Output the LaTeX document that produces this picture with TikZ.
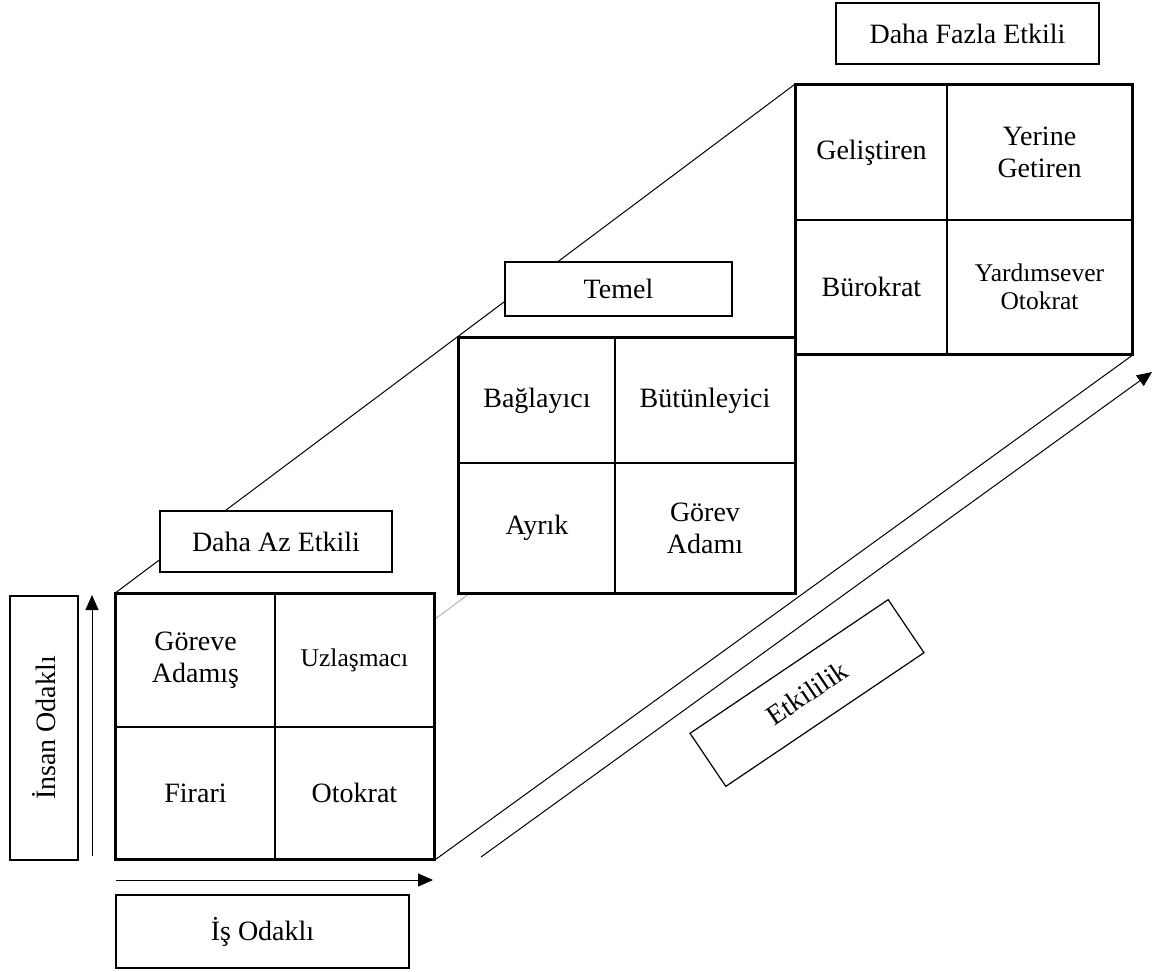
\documentclass[tikz,border=0pt]{standalone}
\usepackage{fontspec}
\setmainfont{Liberation Serif}
\usetikzlibrary{calc,arrows.meta,backgrounds}
\begin{document}
\begin{tikzpicture}[x=1pt,y=-1pt,
  txt/.style={font=\fontsize{28}{32}\selectfont},
  smalltxt/.style={font=\fontsize{25.5}{28}\selectfont},
  cell/.style={draw, line width=1.8pt, fill=white, inner sep=0pt, align=center, txt},
  frame/.style={line width=2.7pt},
  tag/.style={draw, line width=1.8pt, fill=white, inner sep=0pt, align=center, txt},
  link/.style={line width=1pt},
  faint/.style={line width=0.8pt, gray!70},
  axis/.style={line width=1pt, -{Triangle[length=15pt,width=13pt]}},
]
\useasboundingbox (0,0) rectangle (1157,972);

% lower grid: less effective styles
\node[cell, minimum width=159pt, minimum height=133pt] (lowTL) at (195.5,660.5) {Göreve\\Adamış};
\node[cell, minimum width=159pt, minimum height=133pt, smalltxt] (lowTR) at (354.5,660.5) {Uzlaşmacı};
\node[cell, minimum width=159pt, minimum height=132pt] (lowBL) at (195.5,793) {Firari};
\node[cell, minimum width=159pt, minimum height=132pt] (lowBR) at (354.5,793) {Otokrat};
\draw[frame] (lowTL.north west) rectangle (lowBR.south east);

% middle grid: basic styles
\node[cell, minimum width=156pt, minimum height=125pt] (midTL) at (537,400.5) {Bağlayıcı};
\node[cell, minimum width=180pt, minimum height=125pt] (midTR) at (705,400.5) {Bütünleyici};
\node[cell, minimum width=156pt, minimum height=130pt] (midBL) at (537,528) {Ayrık};
\node[cell, minimum width=180pt, minimum height=130pt] (midBR) at (705,528) {Görev\\Adamı};
\draw[frame] (midTL.north west) rectangle (midBR.south east);

% upper grid: more effective styles
\node[cell, minimum width=151pt, minimum height=135pt] (topTL) at (871.5,152.5) {Geliştiren};
\node[cell, minimum width=185pt, minimum height=135pt] (topTR) at (1039.5,152.5) {Yerine\\Getiren};
\node[cell, minimum width=151pt, minimum height=134pt] (topBL) at (871.5,287) {Bürokrat};
\node[cell, minimum width=185pt, minimum height=134pt, smalltxt] (topBR) at (1039.5,287) {Yardımsever\\Otokrat};
\draw[frame] (topTL.north west) rectangle (topBR.south east);

% titles and axis labels
\node[tag, minimum width=232pt, minimum height=61pt] (less) at (276,541.5) {Daha Az Etkili};
\node[tag, minimum width=227pt, minimum height=54pt] (basic) at (618.5,289) {Temel};
\node[tag, minimum width=263pt, minimum height=61pt] (more) at (967.5,33.5) {Daha Fazla Etkili};
\node[tag, minimum width=68pt, minimum height=264pt] (people) at (44,728) {};
\node[txt, rotate=90] at (people.center) {İnsan Odaklı};
\node[tag, minimum width=293pt, minimum height=73pt] (task) at (262.5,931.5) {İş Odaklı};
\node[tag, line width=1.2pt, rotate=34, minimum width=239pt, minimum height=64pt] (eff) at (807,693) {Etkililik};

% axes
\coordinate (upS) at (92,856);
\coordinate (upE) at (92,595);
\coordinate (rtS) at (116,880);
\coordinate (rtE) at (433,880);
\coordinate (efS) at (481,857);
\coordinate (efE) at (1152,372);
\draw[axis] (upS) -- (upE);
\draw[axis] (rtS) -- (rtE);
\draw[axis] (efS) -- (efE);

% depth edges behind the grids
\begin{scope}[on background layer]
  \draw[link] (lowTL.north west) -- (topTL.north west);
  \draw[link] (lowBR.south east) -- (topBR.south east);
  \draw[faint] ($(lowTR.north east)+(0,26)$) -- ($(midBL.south west)+(11,0)$);
\end{scope}
\end{tikzpicture}
\end{document}
